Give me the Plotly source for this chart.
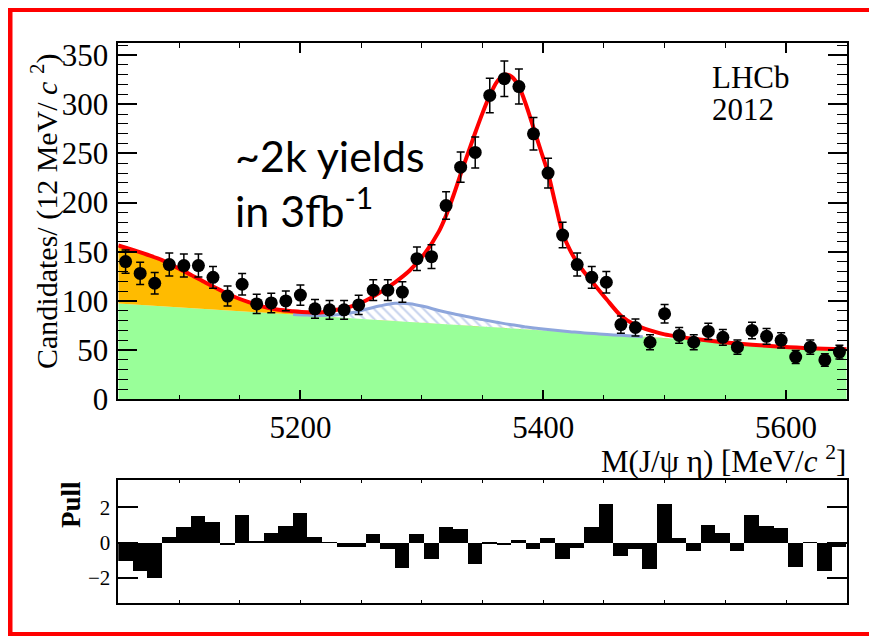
import numpy as np
import plotly.graph_objects as go

# ---------------- data ----------------
mass_lo = 5050
mass_hi = 5650
bin_width = 12

# candidates per 12 MeV bin (50 bins, 5050-5650 MeV)
counts = [140, 128, 118, 137, 136, 136, 124, 105, 117, 97,
          98, 100, 106, 92, 91, 91, 96, 111, 111, 109,
          143, 145, 197, 236, 251, 309, 326, 318, 270, 230,
          167, 137, 124, 119, 76, 73, 58, 87, 65, 58,
          69, 63, 53, 70, 64, 60, 43, 53, 40, 48]

# pull per bin
pulls = [-1.05, -1.6, -1.98, 0.34, 0.9, 1.53, 1.19, -0.15, 1.58, 0.05,
         0.53, 0.96, 1.7, 0.32, 0.02, -0.26, -0.26, 0.49, -0.34, -1.45,
         0.49, -0.94, 0.87, 0.76, -1.2, -0.1, -0.15, 0.15, -0.37, 0.25,
         -0.92, -0.3, 0.9, 2.17, -0.73, -0.35, -1.49, 2.17, 0.25, -0.45,
         1.0, 0.53, -0.45, 1.56, 0.94, 0.81, -1.36, 0.02, -1.58, -0.23]

# fit components sampled every 12 MeV from 5050 to 5650
comb_bkg = [97.5, 96.6, 95.6, 94.7, 93.7, 92.8, 91.9, 90.9, 90.0, 89.0,
            88.1, 87.2, 86.2, 85.3, 84.3, 83.4, 82.5, 81.5, 80.6, 79.6,
            78.7, 77.8, 76.8, 75.9, 74.9, 74.0, 73.1, 72.1, 71.2, 70.2,
            69.3, 68.4, 67.4, 66.5, 65.5, 64.6, 63.7, 62.7, 61.8, 60.8,
            59.9, 59.0, 58.0, 57.1, 56.1, 55.2, 54.3, 53.3, 52.4, 51.4, 50.5]
partial_bkg = [59, 56, 52, 47, 40.5, 33.5, 26.5, 20, 14, 9,
               5.5, 3, 1.5, 0.7, 0.3, 0, 0, 0, 0, 0,
               0, 0, 0, 0, 0, 0, 0, 0, 0, 0,
               0, 0, 0, 0, 0, 0, 0, 0, 0, 0,
               0, 0, 0, 0, 0, 0, 0, 0, 0, 0, 0]
b0_bkg = [0, 0, 0, 0, 0, 0, 0, 0, 0, 0,
          0, 0, 0, 0.3, 1, 2.5, 5.5, 10, 14.5, 18,
          18.5, 16.5, 13.5, 11, 9, 7, 5.2, 3.6, 2.4, 1.5,
          0.8, 0.4, 0.1, 0, 0, 0, 0, 0, 0, 0,
          0, 0, 0, 0, 0, 0, 0, 0, 0, 0, 0]

# total fit curve
fit_mass = [5050, 5062, 5074, 5086, 5098, 5110, 5122, 5134, 5146, 5158,
            5170, 5182, 5194, 5206, 5218, 5230, 5242, 5254, 5266, 5278,
            5290, 5302, 5314, 5320, 5326, 5332, 5338, 5344, 5350, 5356,
            5362, 5368, 5374, 5380, 5386, 5392, 5398, 5404, 5410, 5416,
            5422, 5428, 5434, 5440, 5452, 5464, 5476, 5488, 5500, 5524,
            5548, 5572, 5596, 5620, 5650]
fit_total = [156.5, 152, 147, 141.5, 134, 126.5, 118.5, 111, 104, 98.5,
             94, 91, 89.5, 88.5, 88.5, 91, 94.5, 100.5, 109, 119,
             131, 147.5, 170.5, 187, 207, 229, 250, 271, 291, 309,
             323, 330, 328, 318, 299, 276, 253, 230, 199, 169,
             152, 139, 129, 120, 102, 85, 75.5, 70, 66, 61.5,
             58, 55.5, 53.5, 52, 51]

main_ticks = [5200, 5400, 5600]
pull_ticks = [-2, 0, 2]

# ---------------- derived ----------------
centers = mass_lo + bin_width * (np.arange(len(counts)) + 0.5)
errors = np.sqrt(np.array(counts, dtype=float))
comp_mass = np.arange(mass_lo, mass_hi + 1, bin_width)
comb = np.array(comb_bkg)
orange_top = comb + np.array(partial_bkg)
blue_top = comb + np.array(b0_bkg)
bsel = slice(12, 37)

# the page body has an 8px margin: the figure is drawn from (8, 8)
OFF = 8
W, H = 877 - OFF, 636 - OFF
def px(x):
    return (x - OFF) / W
def py(y):
    return 1 - (y - OFF) / H

SERIF = "Liberation Serif, Times New Roman, serif"
GREEN = "#99ff99"
ORANGE = "#ffbb00"
BLUE = "#8ea6dc"

fig = go.Figure()
fig.add_trace(go.Scatter(x=comp_mass, y=comb, mode="lines", fill="tozeroy",
                         fillcolor=GREEN, line=dict(width=0, color=GREEN),
                         xaxis="x", yaxis="y", hoverinfo="skip"))
fig.add_trace(go.Scatter(x=comp_mass, y=comb, mode="lines",
                         line=dict(width=0, color=GREEN), hoverinfo="skip"))
fig.add_trace(go.Scatter(x=comp_mass, y=orange_top, mode="lines", fill="tonexty",
                         fillcolor=ORANGE, line=dict(width=0, color=ORANGE, shape="spline"),
                         hoverinfo="skip"))
fig.add_trace(go.Scatter(x=comp_mass[bsel], y=comb[bsel], mode="lines",
                         line=dict(width=0, color=GREEN), hoverinfo="skip"))
fig.add_trace(go.Scatter(x=comp_mass[bsel], y=blue_top[bsel], mode="lines", fill="tonexty",
                         fillcolor="rgba(0,0,0,0)",
                         fillpattern=dict(shape="\\", fgcolor=BLUE, bgcolor="rgba(0,0,0,0)",
                                          size=7, solidity=0.3),
                         line=dict(width=3, color=BLUE, shape="spline"), hoverinfo="skip"))
fig.add_trace(go.Scatter(x=fit_mass, y=fit_total, mode="lines",
                         line=dict(width=4, color="#ff0000", shape="spline", smoothing=0.8),
                         hoverinfo="skip"))
fig.add_trace(go.Scatter(x=centers, y=counts, mode="markers",
                         marker=dict(color="black", size=13),
                         error_y=dict(type="data", array=errors, color="black",
                                      thickness=1.5, width=4)))
fig.add_trace(go.Bar(x=centers, y=pulls, width=bin_width, marker=dict(color="black", line=dict(width=0)),
                     xaxis="x2", yaxis="y2"))

axis_common = dict(showline=True, linecolor="black", linewidth=1.5, mirror="allticks",
                   showgrid=False, zeroline=False, ticks="inside", tickcolor="black",
                   automargin=False)

fig.update_layout(
    width=W, height=H, margin=dict(l=0, r=0, t=0, b=0, autoexpand=False),
    paper_bgcolor="white", plot_bgcolor="white", showlegend=False,
    font=dict(family=SERIF, color="black"), bargap=0,
    xaxis=dict(domain=[px(118.3), px(846.7)], range=[mass_lo, mass_hi], anchor="y",
               tickmode="array", tickvals=main_ticks, ticklen=10, tickwidth=1.5,
               minor=dict(dtick=50, tick0=5050, ticklen=5, ticks="inside", tickcolor="black", tickwidth=1.2),
               tickfont=dict(size=31, family=SERIF), ticklabelstandoff=0, **axis_common),
    yaxis=dict(domain=[py(399.3), py(43.3)], range=[0, 362], anchor="x",
               tickmode="linear", tick0=0, dtick=50, ticklen=19, tickwidth=1.5,
               minor=dict(dtick=10, ticklen=10, ticks="inside", tickcolor="black", tickwidth=1.2),
               tickfont=dict(size=31, family=SERIF), ticklabelstandoff=2, **axis_common),
    xaxis2=dict(domain=[px(118.3), px(846.7)], range=[mass_lo, mass_hi], anchor="y2",
                tickmode="linear", tick0=5050, dtick=50, ticklen=3, tickwidth=1.2,
                showticklabels=False, **axis_common),
    yaxis2=dict(domain=[py(602.7), py(480)], range=[-3.39, 3.54], anchor="x2",
                tickmode="array", tickvals=pull_ticks, ticklen=20, tickwidth=1.5,
                tickfont=dict(size=21, family=SERIF), ticklabelstandoff=2, **axis_common),
)

ann = [
    dict(text="Candidates/ (12 MeV/ <i>c</i> <sup>2</sup>)", x=px(45), y=py(212),
         textangle=-90, font=dict(size=30, family=SERIF)),
    dict(text="M(J/ψ η) [MeV/<i>c</i> <sup>2</sup>]", x=px(848), y=py(459), xanchor="right",
         font=dict(size=31, family=SERIF)),
    dict(text="<b>Pull</b>", x=px(71), y=py(505), textangle=-90, font=dict(size=27, family=SERIF)),
    dict(text="LHCb", x=px(710), y=py(77), xanchor="left", font=dict(size=31, family=SERIF)),
    dict(text="2012", x=px(710), y=py(109), xanchor="left", font=dict(size=31, family=SERIF)),
    dict(text="~2k yields", x=px(233), y=py(155), xanchor="left",
         font=dict(size=43, family="Lato, Open Sans, sans-serif")),
    dict(text="in 3fb<sup>-1</sup>", x=px(233), y=py(207), xanchor="left",
         font=dict(size=43, family="Lato, Open Sans, sans-serif")),
]
for a in ann:
    a.setdefault("xanchor", "center")
    a.update(xref="paper", yref="paper", showarrow=False, yanchor="middle")
fig.update_layout(annotations=ann)

# red slide frame: left, top and bottom edges (right edge lies outside the view)
frame = dict(color="#ff0000", width=8)
fig.add_shape(type="line", xref="paper", yref="paper", x0=px(8.5), x1=px(8.5),
              y0=py(640), y1=py(4), line=dict(color="#fe0101", width=8), layer="above")
fig.add_shape(type="line", xref="paper", yref="paper", x0=px(4.5), x1=px(877),
              y0=py(8), y1=py(8), line=frame, layer="above")
fig.add_shape(type="line", xref="paper", yref="paper", x0=px(4.5), x1=px(877),
              y0=py(636), y1=py(636), line=frame, layer="above")

fig.write_html("out.html")
